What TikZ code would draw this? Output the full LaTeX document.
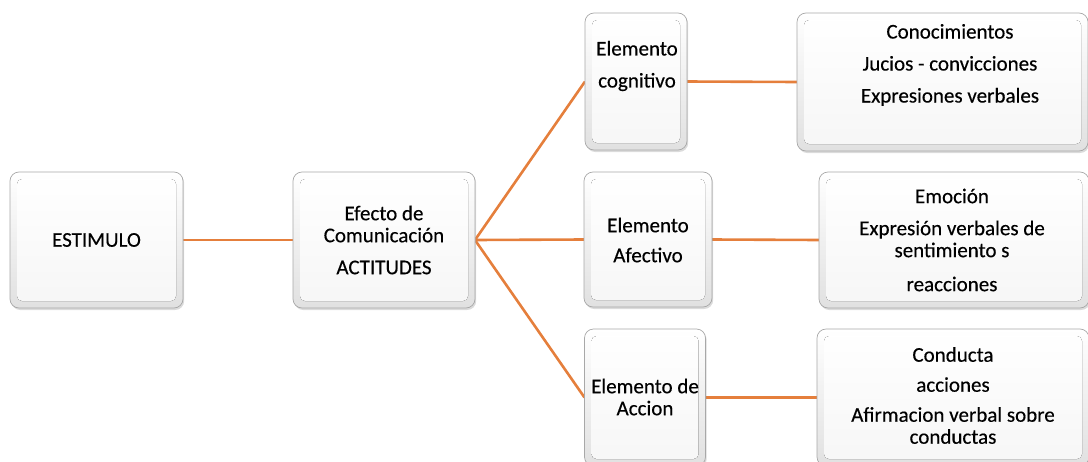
\documentclass[tikz,border=0pt]{standalone}
\usepackage{fontspec}
\setmainfont{Carlito}[FakeBold=0.35]
\usetikzlibrary{shadows,backgrounds}
\definecolor{conn}{HTML}{E57F3C}
\definecolor{boxline}{HTML}{A8A8A8}
\tikzset{
  box/.style={rounded corners=9pt, draw=boxline, line width=0.7pt,
    top color=white, bottom color=gray!24, inner sep=0pt, outer sep=0pt,
    drop shadow={shadow xshift=1.2pt, shadow yshift=-2pt, opacity=0.35, fill=gray!80},
    path picture={\fill[rounded corners=5pt, top color=white, bottom color=gray!7]
      ([shift={(7pt,-7pt)}]path picture bounding box.north west) rectangle
      ([shift={(-7pt,7pt)}]path picture bounding box.south east);}},
  txt/.style={align=center, inner sep=0pt, font=\fontsize{21}{22}\selectfont},
  link/.style={draw=conn, line width=2.6pt}
}
\begin{document}
\begin{tikzpicture}[x=1pt,y=-1pt]
\useasboundingbox (0,0) rectangle (1088,461);
\clip (0,0) rectangle (1088,461);
% boxes
\node[box, minimum width=173pt, minimum height=136pt] (est) at (96.5,240) {};
\node[box, minimum width=182pt, minimum height=136pt] (eff) at (384,240) {};
\node[box, minimum width=102pt, minimum height=137pt] (cog) at (636,81.5) {};
\node[box, minimum width=128pt, minimum height=135pt] (afe) at (648,239.5) {};
\node[box, minimum width=121pt, minimum height=137pt] (acc) at (645,397.5) {};
\node[box, minimum width=291pt, minimum height=138pt] (cono) at (942.5,82) {};
\node[box, minimum width=270pt, minimum height=136pt] (emo) at (954,240) {};
\node[box, minimum width=272pt, minimum height=137pt] (cond) at (953,397.5) {};
% texts
\node[txt] (t-est) at (96.5,240) {ESTIMULO};
\node[txt] (t-eff) at (384,240) {Efecto de\\Comunicación\\[10pt]ACTITUDES};
\node[txt] (t-cog) at (637,66) {Elemento\\[10pt]cognitivo};
\node[txt] (t-cono) at (950,65) {Conocimientos\\[10pt]Jucios - convicciones\\[10pt]Expresiones verbales};
\node[txt] (t-afe) at (648,240) {Elemento\\[8pt]Afectivo};
\node[txt] (t-emo) at (952,240) {Emoción\\[10pt]Expresión verbales de\\sentimiento s\\[12pt]reacciones};
\node[txt] (t-acc) at (645,397) {Elemento de\\Accion};
\node[txt] (t-cond) at (953,395.5) {Conducta\\[8pt]acciones\\[8pt]Afirmacion verbal sobre\\conductas};
% connectors
\begin{scope}[on background layer]
\draw[link] (est.east) -- (eff.west);
\draw[link] (eff.east) -- (cog.west);
\draw[link] (eff.east) -- (afe.west);
\draw[link] (eff.east) -- (acc.west);
\draw[link] (cog.east) -- (cono.west);
\draw[link] (afe.east) -- (emo.west);
\draw[link] (acc.east) -- (cond.west);
\end{scope}
\end{tikzpicture}
\end{document}
